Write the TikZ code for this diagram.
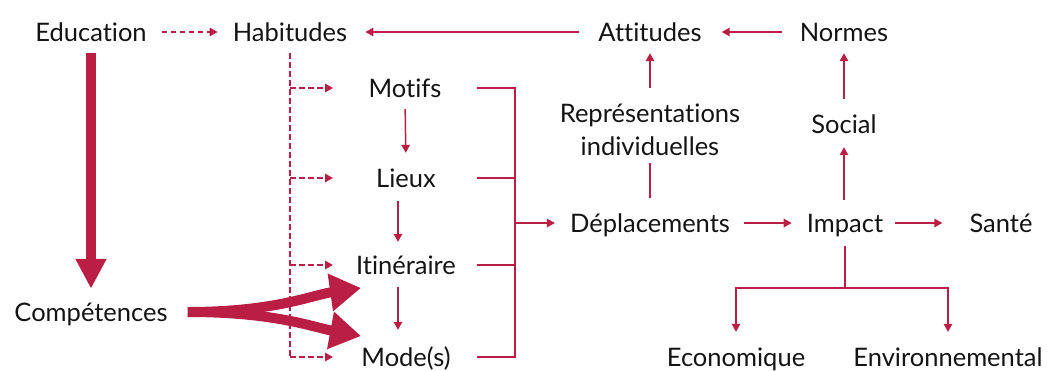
\documentclass[tikz,border=0pt]{standalone}
\usepackage{fontspec}
\setmainfont{Lato}[Ligatures=NoCommon]
\usetikzlibrary{arrows.meta,calc}
\definecolor{crim}{RGB}{187,30,69}
\definecolor{ink}{RGB}{20,20,20}
\begin{document}
\begin{tikzpicture}[x=1pt,y=-1pt,
  fnt/.style={font=\fontsize{25.5}{33}\selectfont,text=ink},
  lbl/.style={fnt,inner sep=0pt,text height=18pt,text depth=0pt},
  ln/.style={draw=crim,line width=1.5pt},
  arr/.style={ln,-{Triangle[length=8pt,width=8.5pt]}},
  dln/.style={ln,dash pattern=on 5.5pt off 3.5pt},
  darr/.style={arr,dash pattern=on 5.5pt off 3.5pt},
  big/.style={draw=crim,line width=10pt,-{Triangle[length=30pt,width=29pt]}},
  bigc/.style={draw=crim,line width=10pt,-{Triangle[length=31pt,width=36pt]}},
]
\useasboundingbox (0,0) rectangle (1047,370);

% nodes
\node[lbl] (edu)   at (91,32)   {Education};
\node[lbl] (hab)   at (290,32)  {Habitudes};
\node[lbl] (att)   at (650,32)  {Attitudes};
\node[lbl] (norm)  at (844,32)  {Normes};
\node[lbl] (mot)   at (405,88)  {Motifs};
\node[lbl] (lieux) at (406,178) {Lieux};
\node[lbl] (itin)  at (406,265) {Itinéraire};
\node[lbl] (mode)  at (406,357) {Mode(s)};
\node[lbl] (comp)  at (91,312)  {Compétences};
\node[fnt,inner sep=0pt,align=center,anchor=base] (repr) at (650,155) {Représentations\\individuelles};
\node[lbl] (depl)  at (650,223) {Déplacements};
\node[lbl] (imp)   at (845,223) {Impact};
\node[lbl] (sante) at (1001,223) {Santé};
\node[lbl] (soc)   at (844,124) {Social};
\node[lbl] (eco)   at (736,357) {Economique};
\node[lbl] (env)   at (948,357) {Environnemental};

% helper coordinates
\coordinate (dtip) at (333,0);
\coordinate (bl) at (477,0);
\coordinate (bx) at (515,0);
\coordinate (junc) at (845,288);
\coordinate (tu) at (361,288);
\coordinate (td) at (361,336);

% Education
\draw[darr,shorten <=15pt,shorten >=15pt] (edu.east) -- (hab.west);
\draw[big,shorten <=12pt,shorten >=14pt] (edu.south) -- (comp.north);

% Habitudes dashed tree
\draw[dln,shorten <=12pt] (hab.south) -- (hab.south |- mode.west);
\foreach \n in {mot,lieux,itin,mode}
  \draw[darr] (hab.south |- \n.west) -- (dtip |- \n.west);

% chain
\draw[arr,shorten <=12pt,shorten >=16pt] (mot.south) -- (lieux.north);
\draw[arr,shorten <=14pt,shorten >=14pt] ([xshift=-8pt]lieux.south) -- ([xshift=-8pt]itin.north);
\draw[arr,shorten <=13pt,shorten >=18pt] ([xshift=-8pt]itin.south) -- ([xshift=-8pt]mode.north);

% bracket
\draw[ln] (bl |- mot.east) -- (bx |- mot.east) -- (bx |- mode.east) -- (bl |- mode.east);
\draw[ln] (bl |- lieux.east) -- (bx |- lieux.east);
\draw[ln] (bl |- itin.east) -- (bx |- itin.east);
\draw[arr,shorten >=15pt] (bx |- depl.west) -- (depl.west);

% right part
\draw[arr,shorten <=14pt,shorten >=15pt] (depl.east) -- (imp.west);
\draw[arr,shorten <=12pt,shorten >=27pt] (imp.east) -- (sante.west);
\draw[ln,shorten <=16pt,shorten >=8pt] (depl.north) -- (repr.south);
\draw[arr,shorten <=15pt,shorten >=12pt] (repr.north) -- (att.south);
\draw[arr,shorten <=18pt,shorten >=20pt] (norm.west) -- (att.east);
\draw[arr,shorten <=19pt,shorten >=18pt] (att.west) -- (hab.east);
\draw[arr,shorten <=14pt,shorten >=14pt] (imp.north -| soc.south) -- (soc.south);
\draw[arr,shorten <=16pt,shorten >=12pt] (soc.north) -- (norm.south);
\draw[ln,shorten <=14pt] (imp.south) -- (junc);
\draw[arr,shorten >=16pt] (junc) -| (eco.north);
\draw[arr,shorten >=16pt] (junc) -| (env.north);

% Compétences
\draw[bigc,shorten <=20pt] (comp.east) .. controls (275,312) and (312,295) .. (tu);
\draw[bigc,shorten <=20pt] (comp.east) .. controls (275,312) and (312,327) .. (td);
\end{tikzpicture}
\end{document}
